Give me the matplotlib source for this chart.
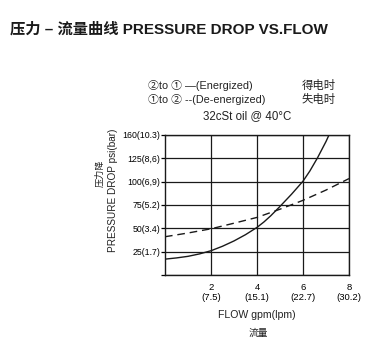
import matplotlib
matplotlib.use("Agg")
import matplotlib.pyplot as plt

plt.rcParams['font.family'] = ['Liberation Sans', 'Noto Sans CJK SC', 'DejaVu Sans']

# Data (flow in gpm, pressure drop on the chart's psi axis)
flow_solid = [0, 0.5, 1, 1.5, 2, 2.5, 3, 3.5, 4, 4.3, 4.6, 5, 5.5, 6, 6.3, 6.63, 7, 7.13]
dp_solid = [17, 18.3, 20, 22.6, 26, 30.8, 36.5, 43.2, 51, 56.8, 63.5, 73.5, 86.5, 100.5,
            111.5, 125.5, 143, 150]
flow_dash = [0, 1, 2, 3, 4, 5, 6, 7, 8]
dp_dash = [41, 45, 49.5, 55.5, 61.7, 70.5, 80, 91, 103.3]

x_ticks = [2, 4, 6, 8]
x_labels = ["2\n(7.5)", "4\n(15.1)", "6\n(22.7)", "8\n(30.2)"]
y_ticks = [0, 25, 50, 75, 100, 125, 150]
y_labels = ["", "25(1.7)", "50(3.4)", "75(5.2)", "100(6,9)", "125(8,6)", "160(10.3)"]

W, H = 377, 359
fig = plt.figure(figsize=(W / 100, H / 100), dpi=100)

def fx(px):
    return px / W

def fy(py):
    return 1 - py / H

ax = fig.add_axes([fx(165), fy(275), fx(349) - fx(165), fy(135) - fy(275)])
ax.plot(flow_solid, dp_solid, color='#1a1a1a', lw=1.0)
ax.plot(flow_dash, dp_dash, color='#1a1a1a', lw=1.0, dashes=(5.5, 3.5))
ax.set_xlim(0, 8)
ax.set_ylim(0, 150)
ax.set_xticks(x_ticks)
ax.set_xticklabels(x_labels, fontsize=6.8, linespacing=1.05)
ax.set_yticks(y_ticks)
ax.set_yticklabels(y_labels, fontsize=6.3)
ax.tick_params(axis='x', length=0, pad=6)
ax.tick_params(axis='y', length=3, width=0.9, pad=0.5)
ax.grid(True, color='#1a1a1a', lw=0.9)
for s in ax.spines.values():
    s.set_linewidth(1.0)
    s.set_color('#1a1a1a')

fig.text(fx(10), fy(29.5), "压力 – 流量曲线 PRESSURE DROP VS.FLOW", fontsize=11,
         fontweight='bold', va='center', ha='left', color='#1a1a1a')
fig.text(fx(148), fy(85.7), "②to ① —(Energized)", fontsize=7.8, va='center', ha='left', color='#222222')
fig.text(fx(148), fy(99.3), "①to ② --(De-energized)", fontsize=7.8, va='center', ha='left', color='#222222')
fig.text(fx(302), fy(85.7), "得电时", fontsize=8.2, va='center', ha='left', color='#222222')
fig.text(fx(302), fy(99.3), "失电时", fontsize=8.2, va='center', ha='left', color='#222222')
fig.text(fx(203), fy(115.7), "32cSt oil @ 40°C", fontsize=8.3, va='center', ha='left', color='#222222')

fig.text(fx(113), fy(190), "PRESSURE DROP psi(bar)", fontsize=7.2, rotation=90,
         va='center', ha='center', color='#222222')
fig.text(fx(100), fy(173), "压力降", fontsize=6.6, rotation=90, va='center', ha='center', color='#222222')
fig.text(fx(257), fy(315), "FLOW gpm(lpm)", fontsize=7.6, va='center', ha='center', color='#222222')
fig.text(fx(258), fy(332.7), "流量", fontsize=7.0, va='center', ha='center', color='#222222')

fig.savefig("out.png", dpi=100)
